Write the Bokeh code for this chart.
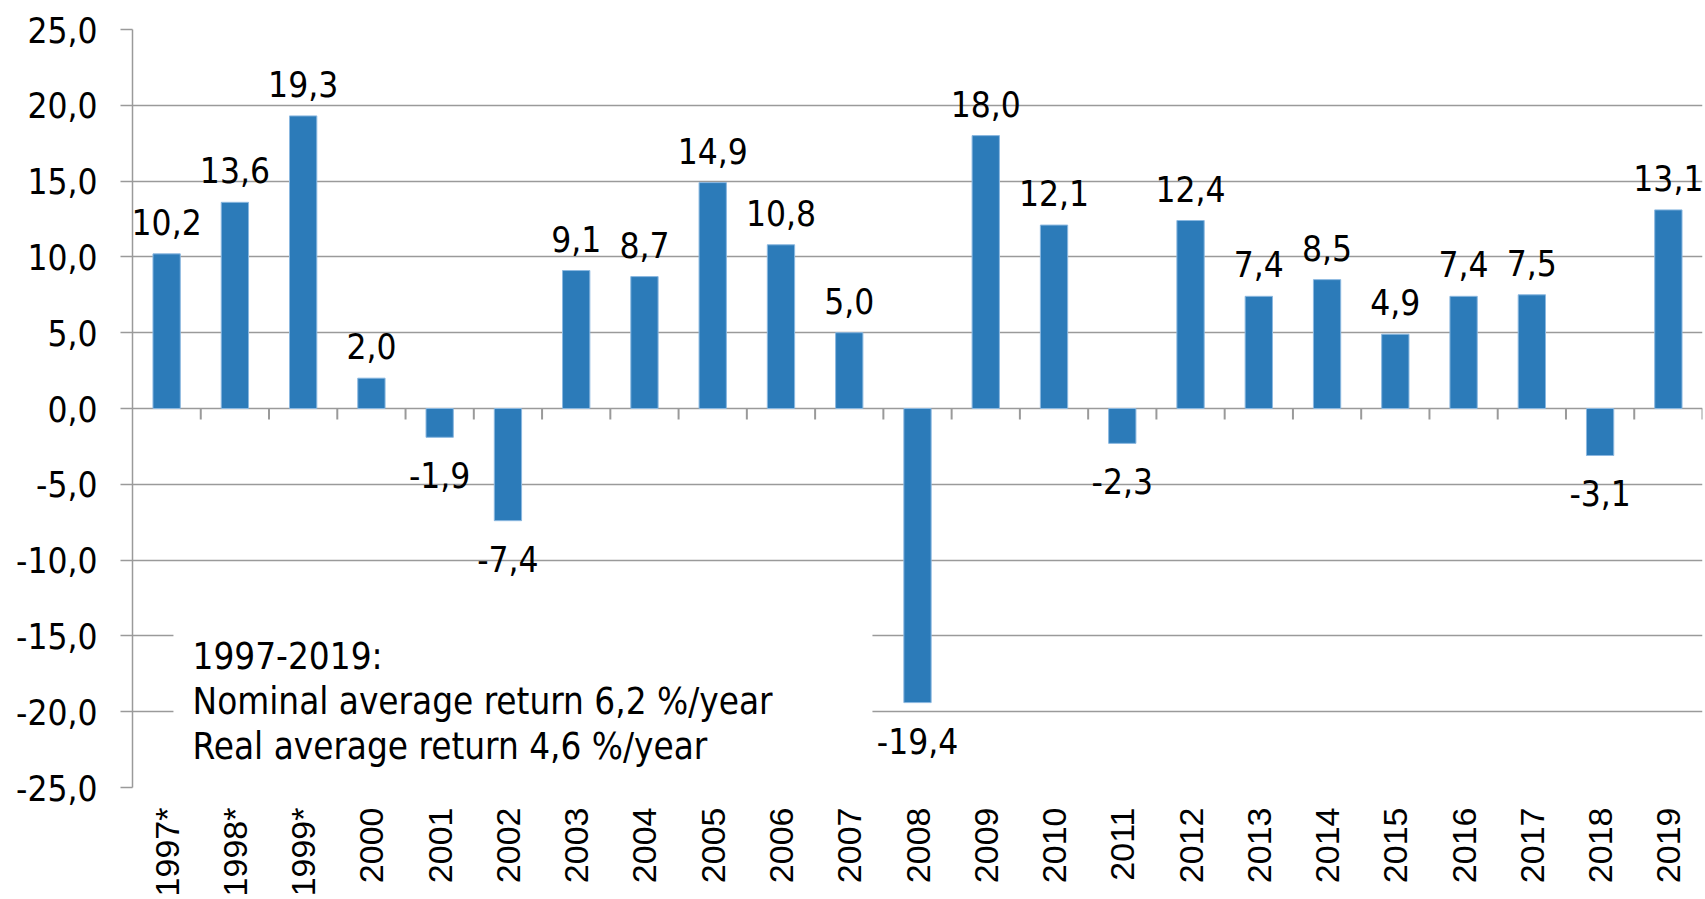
from bokeh.plotting import figure
from bokeh.models import (ColumnDataSource, FactorRange, Range1d, FixedTicker,
                          BoxAnnotation, Label)
from bokeh.transform import dodge
from bokeh.core.properties import value
from bokeh.embed import file_html
from bokeh.resources import INLINE
import math

# ---- data ----
years = ["1997*", "1998*", "1999*", "2000", "2001", "2002", "2003", "2004",
         "2005", "2006", "2007", "2008", "2009", "2010", "2011", "2012",
         "2013", "2014", "2015", "2016", "2017", "2018", "2019"]
returns = [10.2, 13.6, 19.3, 2.0, -1.9, -7.4, 9.1, 8.7, 14.9, 10.8, 5.0,
           -19.4, 18.0, 12.1, -2.3, 12.4, 7.4, 8.5, 4.9, 7.4, 7.5, -3.1, 13.1]
y_ticks = [25, 20, 15, 10, 5, 0, -5, -10, -15, -20, -25]
y_tick_labels = ["25,0", "20,0", "15,0", "10,0", "5,0", "0,0", "-5,0",
                 "-10,0", "-15,0", "-20,0", "-25,0"]
note_lines = ["1997-2019:",
              "Nominal average return 6,2 %/year",
              "Real average return 4,6 %/year"]

FONT = "DejaVu Sans Condensed"
XFONT = "Liberation Sans"
BAR = "#2C7BB9"
GRID = "#9a9a9a"

W, H = 1705, 899
TOP, LEFT, BOTTOM = 29, 132, 112

p = figure(width=W, height=H, output_backend="svg", toolbar_location=None,
           x_range=FactorRange(factors=years, range_padding=0),
           y_range=Range1d(-25, 25),
           min_border_left=LEFT, min_border_top=TOP, min_border_right=3,
           min_border_bottom=0)
p.outline_line_color = None
p.background_fill_color = "white"
p.border_fill_color = "white"

ticker = FixedTicker(ticks=y_ticks)
p.yaxis.ticker = ticker
p.yaxis.major_label_overrides = {t: l for t, l in zip(y_ticks, y_tick_labels)}
p.yaxis.major_label_text_font = FONT
p.yaxis.major_label_text_font_size = "35px"
p.yaxis.major_label_text_color = "black"
p.yaxis.major_tick_out = 12
p.yaxis.major_tick_in = 0
p.yaxis.minor_tick_line_color = None
p.yaxis.major_label_standoff = 23
p.yaxis.axis_line_color = GRID
p.yaxis.axis_line_width = 1.5
p.yaxis.major_tick_line_color = GRID
p.yaxis.major_tick_line_width = 1.5

p.ygrid.ticker = ticker
p.ygrid.grid_line_color = GRID
p.ygrid.grid_line_width = 1.5
p.xgrid.grid_line_color = None

p.xaxis.axis_line_color = None
p.xaxis.major_tick_line_color = None
p.xaxis.minor_tick_line_color = None
p.xaxis.major_label_orientation = math.pi / 2
p.xaxis.major_label_text_font = XFONT
p.xaxis.major_label_text_font_size = "34px"
p.xaxis.major_label_text_color = "black"
p.xaxis.major_label_standoff = 14

labels = [f"{v:.1f}".replace(".", ",") for v in returns]
offsets = [-32 if v >= 0 else 38 for v in returns]
src = ColumnDataSource(dict(year=years, ret=returns, lab=labels, off=offsets))

p.vbar(x="year", top="ret", bottom=0, width=0.4, source=src,
       fill_color=BAR, line_color="#8BB8E0", line_width=1)

# category tick marks hanging below the zero line
px_per_unit = (H - TOP - BOTTOM) / 50.0
tick_len = 11 / px_per_unit
p.segment(x0=dodge("year", 0.5, range=p.x_range), y0=0,
          x1=dodge("year", 0.5, range=p.x_range), y1=-tick_len,
          source=src, line_color=GRID, line_width=2)

p.text(x="year", y="ret", text="lab", source=src, y_offset="off",
       text_align="center", text_baseline="alphabetic",
       text_font=value(FONT), text_font_size="35px", text_color="black")

# white note box covering grid lines
p.add_layout(BoxAnnotation(left=0.6, right=10.84, top=-12.0, bottom=-24.3,
                           fill_color="white", fill_alpha=1.0,
                           line_color=None, level="annotation"))
note_y = [-16.35, -19.32, -22.3]
for txt, yy in zip(note_lines, note_y):
    p.add_layout(Label(x=0.88, y=yy, text=txt, text_font=FONT,
                       text_font_size="36.5px", text_color="black",
                       text_baseline="alphabetic", text_align="left"))

open("out.html", "w").write(file_html(p, INLINE))
